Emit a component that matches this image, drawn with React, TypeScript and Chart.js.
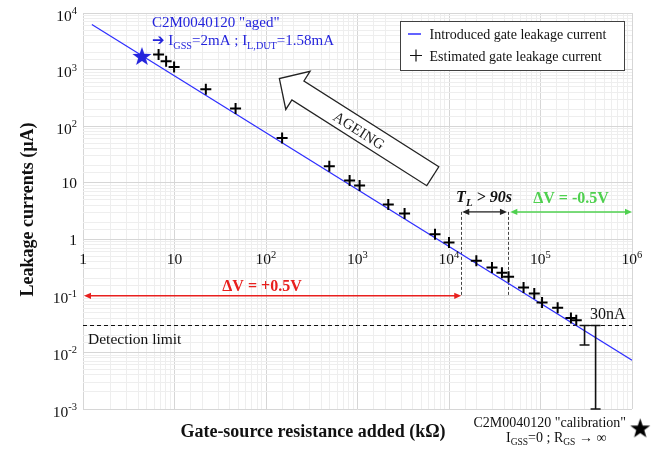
import React, { useEffect, useRef } from 'react';
import { Chart, registerables } from 'chart.js';

Chart.register(...registerables);

// ---------- data ----------
const lineR = [1.25, 1e6];
const lineI = [6240, 0.0073];

const estR = [6.7, 8.1, 9.9, 22, 46.5, 150, 492, 820, 1054, 2170, 3270, 7030, 10000, 19900, 29500, 37900, 44800, 65300, 85500, 104000, 154000, 215000, 246000];
const estI = [1840, 1400, 1110, 449, 205, 62, 19.6, 10.9, 8.9, 4.12, 2.86, 1.23, 0.877, 0.416, 0.318, 0.255, 0.217, 0.141, 0.11, 0.0764, 0.0614, 0.0408, 0.0372];

const agedStar = [4.4, 1740];
const calibStar = [1.23e6, 4.65e-4];

const errR = [303000, 400000];
const errHigh = [0.03, 0.03];
const errLow = [0.0135, 0.001];

const detectionLimit = 0.03;
const xDecades = [0, 1, 2, 3, 4, 5, 6];
const yDecades = [-3, -2, -1, 0, 1, 2, 3, 4];

const dvPlusLevel = 0.1;
const dvPlusEnd = 13600;
const tlStart = 13600;
const tlEnd = 44100;
const dvMinusStart = 46800;
const tlLevel = 3.05;
const ageingTip = [140, 693];
const ageingTail = [6650, 13.0];

const SERIF = '"Liberation Serif", "Times New Roman", "DejaVu Serif", serif';
const BLUE = '#2424dc';
const LINE_BLUE = '#2f2fff';

type Seg = { t: string; sub?: boolean; sup?: boolean; sans?: boolean; bold?: boolean };

function drawRich(
  ctx: CanvasRenderingContext2D,
  segs: Seg[],
  x: number,
  baseline: number,
  size: number,
  o: { bold?: boolean; italic?: boolean; color?: string; align?: 'left' | 'center' | 'right' } = {}
) {
  const fontFor = (s: Seg) => {
    const sz = s.sub || s.sup ? size * 0.68 : size;
    const fam = s.sans ? '"DejaVu Sans", sans-serif' : SERIF;
    return `${o.italic ? 'italic ' : ''}${o.bold || s.bold ? 'bold ' : ''}${sz}px ${fam}`;
  };
  let w = 0;
  const widths: number[] = [];
  for (const s of segs) {
    ctx.font = fontFor(s);
    const ww = ctx.measureText(s.t).width;
    widths.push(ww);
    w += ww;
  }
  const align = o.align || 'left';
  let cx = align === 'left' ? x : align === 'center' ? x - w / 2 : x - w;
  ctx.save();
  ctx.fillStyle = o.color || '#111';
  ctx.textAlign = 'left';
  ctx.textBaseline = 'alphabetic';
  segs.forEach((s, i) => {
    ctx.font = fontFor(s);
    const dy = s.sub ? size * 0.24 : s.sup ? -size * 0.42 : 0;
    ctx.fillText(s.t, cx, baseline + dy);
    cx += widths[i];
  });
  ctx.restore();
}

function makeStar(color: string, R: number) {
  const c = document.createElement('canvas');
  const size = Math.ceil(2 * R + 2);
  c.width = size;
  c.height = size;
  const g = c.getContext('2d')!;
  const cx = size / 2;
  const cy = size / 2 + R * 0.1;
  const r = R * 0.4;
  g.beginPath();
  for (let i = 0; i < 10; i++) {
    const rad = i % 2 === 0 ? R : r;
    const a = -Math.PI / 2 + (i * Math.PI) / 5;
    const px = cx + rad * Math.cos(a);
    const py = cy + rad * Math.sin(a);
    if (i === 0) g.moveTo(px, py);
    else g.lineTo(px, py);
  }
  g.closePath();
  g.fillStyle = color;
  g.fill();
  return c;
}

function arrowHead(ctx: CanvasRenderingContext2D, x: number, y: number, dir: number, color: string, len = 7, half = 3.2) {
  ctx.save();
  ctx.fillStyle = color;
  ctx.beginPath();
  ctx.moveTo(x, y);
  ctx.lineTo(x - dir * len, y - half);
  ctx.lineTo(x - dir * len, y + half);
  ctx.closePath();
  ctx.fill();
  ctx.restore();
}

function hArrow(ctx: CanvasRenderingContext2D, x1: number, x2: number, y: number, color: string, width: number) {
  ctx.save();
  ctx.strokeStyle = color;
  ctx.lineWidth = width;
  ctx.beginPath();
  ctx.moveTo(x1 + 5, y);
  ctx.lineTo(x2 - 5, y);
  ctx.stroke();
  ctx.restore();
  arrowHead(ctx, x1, y, -1, color);
  arrowHead(ctx, x2, y, 1, color);
}

const isMajor = (v: number) => {
  const l = Math.log10(v);
  return Math.abs(l - Math.round(l)) < 1e-6;
};

export default function App() {
  const ref = useRef<HTMLCanvasElement | null>(null);

  useEffect(() => {
    if (!ref.current) return;
    const blueStar = makeStar(BLUE, 10);
    const blackStar = makeStar('#000', 10.5);

    const overlay = {
      id: 'overlay',
      beforeDatasetsDraw(chart: any) {
        const ctx: CanvasRenderingContext2D = chart.ctx;
        const xs = chart.scales.x;
        const ys = chart.scales.y;
        const ca = chart.chartArea;
        const X = (v: number) => xs.getPixelForValue(v);
        const Y = (v: number) => ys.getPixelForValue(v);

        // detection limit
        ctx.save();
        ctx.strokeStyle = '#111';
        ctx.lineWidth = 1;
        ctx.setLineDash([4, 3]);
        ctx.beginPath();
        ctx.moveTo(ca.left, Math.round(Y(detectionLimit)) + 0.5);
        ctx.lineTo(ca.right, Math.round(Y(detectionLimit)) + 0.5);
        ctx.stroke();
        // vertical dashed lines
        ctx.strokeStyle = '#444';
        ctx.setLineDash([3, 2]);
        for (const xv of [tlStart, tlEnd]) {
          const px = Math.round(X(xv)) + 0.5;
          ctx.beginPath();
          ctx.moveTo(px, Y(tlLevel));
          ctx.lineTo(px, Y(dvPlusLevel));
          ctx.stroke();
        }
        ctx.restore();

        // arrows
        hArrow(ctx, ca.left + 1, X(dvPlusEnd), Y(dvPlusLevel), '#e8201e', 1.5);
        hArrow(ctx, X(tlStart) + 1, X(tlEnd) - 1, Y(tlLevel), '#222', 1.2);
        hArrow(ctx, X(dvMinusStart), ca.right, Y(tlLevel), '#4fd04f', 1.5);

        // AGEING arrow
        const tip = { x: X(ageingTip[0]), y: Y(ageingTip[1]) };
        const tail = { x: X(ageingTail[0]), y: Y(ageingTail[1]) };
        const len = Math.hypot(tip.x - tail.x, tip.y - tail.y);
        const d = { x: (tip.x - tail.x) / len, y: (tip.y - tail.y) / len };
        const n = { x: -d.y, y: d.x };
        const sh = 11.2;
        const hh = 22.6;
        const hl = 22;
        const base = { x: tip.x - d.x * hl, y: tip.y - d.y * hl };
        const pts = [
          [tail.x + n.x * sh, tail.y + n.y * sh],
          [base.x + n.x * sh, base.y + n.y * sh],
          [base.x + n.x * hh, base.y + n.y * hh],
          [tip.x, tip.y],
          [base.x - n.x * hh, base.y - n.y * hh],
          [base.x - n.x * sh, base.y - n.y * sh],
          [tail.x - n.x * sh, tail.y - n.y * sh],
        ];
        ctx.save();
        ctx.beginPath();
        pts.forEach((p, i) => (i === 0 ? ctx.moveTo(p[0], p[1]) : ctx.lineTo(p[0], p[1])));
        ctx.closePath();
        ctx.fillStyle = '#fff';
        ctx.fill();
        ctx.strokeStyle = '#222';
        ctx.lineWidth = 1.3;
        ctx.stroke();
        const angle = Math.atan2(-d.y, -d.x);
        const tc = { x: tip.x - d.x * 95 - n.x * 2, y: tip.y - d.y * 95 - n.y * 2 };
        ctx.translate(tc.x, tc.y);
        ctx.rotate(angle);
        ctx.font = `15px ${SERIF}`;
        ctx.fillStyle = '#222';
        ctx.textAlign = 'center';
        ctx.textBaseline = 'middle';
        ctx.fillText('AGEING', 0, 0);
        ctx.restore();
      },
      afterDatasetsDraw(chart: any) {
        const ctx: CanvasRenderingContext2D = chart.ctx;
        const xs = chart.scales.x;
        const ys = chart.scales.y;
        const X = (v: number) => xs.getPixelForValue(v);
        const Y = (v: number) => ys.getPixelForValue(v);

        // error bars
        ctx.save();
        ctx.strokeStyle = '#111';
        ctx.lineWidth = 1.6;
        errR.forEach((r, i) => {
          const px = X(r);
          const t = Y(errHigh[i]);
          const b = Y(errLow[i]);
          ctx.beginPath();
          ctx.moveTo(px, t);
          ctx.lineTo(px, b);
          ctx.moveTo(px - 5, t);
          ctx.lineTo(px + 5, t);
          ctx.moveTo(px - 5, b);
          ctx.lineTo(px + 5, b);
          ctx.stroke();
        });
        ctx.restore();

        // calibration star (outside axes)
        const sx = X(calibStar[0]);
        const sy = Y(calibStar[1]);
        ctx.drawImage(blackStar, sx - blackStar.width / 2, sy - blackStar.height / 2);
      },
      afterDraw(chart: any) {
        const ctx: CanvasRenderingContext2D = chart.ctx;
        const xs = chart.scales.x;
        const ys = chart.scales.y;
        const ca = chart.chartArea;
        const X = (v: number) => xs.getPixelForValue(v);
        const Y = (v: number) => ys.getPixelForValue(v);
        const TS = 15.5;

        // y tick labels
        for (const e of yDecades) {
          const py = Y(Math.pow(10, e));
          const segs: Seg[] = e === 0 ? [{ t: '1' }] : e === 1 ? [{ t: '10' }] : [{ t: '10' }, { t: String(e), sup: true }];
          const bl = e === 0 || e === 1 ? py + 5.5 : py + 7.5;
          drawRich(ctx, segs, ca.left - 6, bl, TS, { align: 'right' });
        }
        // x tick labels (placed at y = 1)
        const xy = Y(1) + 25;
        for (const e of xDecades) {
          const px = X(Math.pow(10, e));
          const segs: Seg[] = e === 0 ? [{ t: '1' }] : e === 1 ? [{ t: '10' }] : [{ t: '10' }, { t: String(e), sup: true }];
          drawRich(ctx, segs, px, xy, TS, { align: 'center' });
        }

        // axis titles
        ctx.save();
        ctx.font = `bold 18px ${SERIF}`;
        ctx.fillStyle = '#111';
        ctx.textAlign = 'center';
        ctx.textBaseline = 'alphabetic';
        ctx.fillText('Gate-source resistance added (kΩ)', 313, 437);
        ctx.translate(33, 209.5);
        ctx.rotate(-Math.PI / 2);
        ctx.fillText('Leakage currents (µA)', 0, 0);
        ctx.restore();

        // annotation texts
        drawRich(ctx, [{ t: 'ΔV = +0.5V' }], 262, 290.5, 16, { bold: true, color: '#e8201e', align: 'center' });
        drawRich(ctx, [{ t: 'ΔV = -0.5V' }], 571, 203, 16, { bold: true, color: '#4fd04f', align: 'center' });
        drawRich(ctx, [{ t: 'T' }, { t: 'L', sub: true }, { t: ' > 90s' }], 484, 202, 16, { bold: true, italic: true, align: 'center' });
        drawRich(ctx, [{ t: '30nA' }], 590, 318.5, 16, {});
        drawRich(ctx, [{ t: 'Detection limit' }], 88, 344, 15.5, {});

        drawRich(ctx, [{ t: 'C2M0040120 "calibration"' }], 626, 427, 14, { align: 'right' });
        drawRich(ctx, [{ t: 'I' }, { t: 'GSS', sub: true }, { t: '=0 ; R' }, { t: 'GS', sub: true }, { t: ' → ∞' }], 506, 441.5, 14, {});

        drawRich(ctx, [{ t: 'C2M0040120 "aged"' }], 152, 27, 15, { color: BLUE });
        drawRich(
          ctx,
          [
            { t: '➔', sans: true, bold: true },
            { t: ' ' },
            { t: 'I' },
            { t: 'GSS', sub: true },
            { t: '=2mA ; I' },
            { t: 'L,DUT', sub: true },
            { t: '=1.58mA' },
          ],
          152,
          45,
          15,
          { color: BLUE }
        );

        // legend
        ctx.save();
        ctx.fillStyle = '#fff';
        ctx.fillRect(400.5, 21.5, 224, 49);
        ctx.strokeStyle = '#404040';
        ctx.lineWidth = 1;
        ctx.strokeRect(400.5, 21.5, 224, 49);
        ctx.strokeStyle = LINE_BLUE;
        ctx.lineWidth = 1.5;
        ctx.beginPath();
        ctx.moveTo(408, 34);
        ctx.lineTo(421, 34);
        ctx.stroke();
        ctx.strokeStyle = '#111';
        ctx.lineWidth = 1.2;
        ctx.beginPath();
        ctx.moveTo(410, 55.5);
        ctx.lineTo(422, 55.5);
        ctx.moveTo(416, 49.5);
        ctx.lineTo(416, 61.5);
        ctx.stroke();
        ctx.restore();
        drawRich(ctx, [{ t: 'Introduced gate leakage current' }], 429.5, 38.7, 14, {});
        drawRich(ctx, [{ t: 'Estimated gate leakage current' }], 429.5, 61, 14, {});
      },
    };

    const gridColor = (c: any) => {
      const v = c.tick && c.tick.value;
      if (v == null) return '#dcdcdc';
      return isMajor(v) ? '#d6d6d6' : '#eeeeee';
    };

    const chart = new Chart(ref.current, {
      type: 'scatter',
      data: {
        datasets: [
          {
            label: 'Introduced gate leakage current',
            data: lineR.map((r, i) => ({ x: r, y: lineI[i] })),
            showLine: true,
            borderColor: LINE_BLUE,
            borderWidth: 1.2,
            pointRadius: 0,
            order: 10,
          },
          {
            label: 'Estimated gate leakage current',
            data: estR.map((r, i) => ({ x: r, y: estI[i] })),
            pointStyle: 'cross',
            pointRadius: 5.5,
            borderWidth: 2,
            borderColor: '#000',
            backgroundColor: '#000',
            order: 1,
          },
          {
            label: 'aged',
            data: [{ x: agedStar[0], y: agedStar[1] }],
            pointStyle: blueStar as any,
            pointRadius: 10,
            order: 0,
          },
        ],
      },
      options: {
        responsive: false,
        animation: false,
        devicePixelRatio: 1,
        layout: { padding: { left: 83, top: 13, right: 30, bottom: 40 } },
        plugins: { legend: { display: false }, tooltip: { enabled: false } },
        events: [],
        scales: {
          x: {
            type: 'logarithmic',
            min: 1,
            max: 1e6,
            ticks: { display: false, autoSkip: false },
            grid: { color: gridColor, drawTicks: false, lineWidth: 1 },
            border: { display: false },
          },
          y: {
            type: 'logarithmic',
            min: 1e-3,
            max: 1e4,
            ticks: { display: false, autoSkip: false },
            grid: { color: gridColor, drawTicks: false, lineWidth: 1 },
            border: { display: false },
          },
        },
      },
      plugins: [overlay],
    });
    return () => chart.destroy();
  }, []);

  return (
    <div style={{ position: 'absolute', left: 0, top: 0, width: 662, height: 449, background: '#fff' }}>
      <canvas ref={ref} width={662} height={449} style={{ display: 'block', width: 662, height: 449 }} />
    </div>
  );
}
